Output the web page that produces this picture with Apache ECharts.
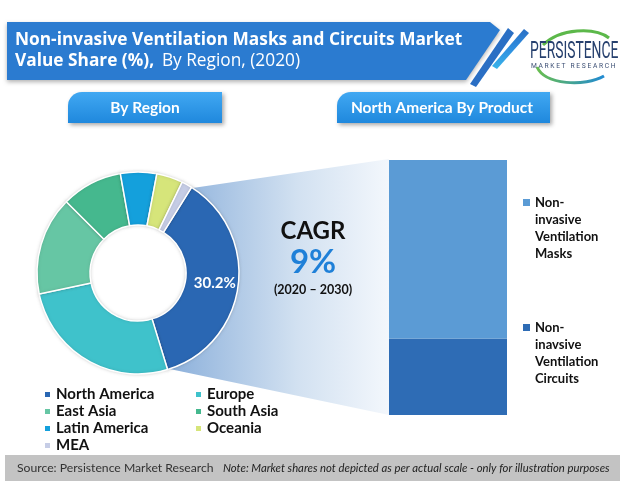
<!DOCTYPE html>
<html><head><meta charset="utf-8">
<script src="https://cdn.jsdelivr.net/npm/echarts@6/dist/echarts.min.js"></script>
<style>html,body{margin:0;padding:0;background:#fff}#c{width:620px;height:483px}</style>
</head><body><div id="c"></div>
<script>
// ---- data ----
var regions = ['North America','Europe','East Asia','South Asia','Latin America','Oceania','MEA'];
var regionShare = [30.2, 21.9, 13.1, 8.1, 4.8, 3.5, 1.4];
var regionColors = ['#2a67b3','#3fc2cb','#66c6a4','#45b88e','#14a0dc','#d6e57a','#c6cde6'];
var products = ['Non-invasive Ventilation Masks','Non-inavsive Ventilation Circuits'];
var productLegend = ['Non-\ninvasive\nVentilation\nMasks','Non-\ninavsive\nVentilation\nCircuits'];
var productShare = [70, 30];
var productColors = ['#5b9bd5','#2e6cb5'];
var cagrValue = '9%';
var cagrPeriod = '(2020 – 2030)';

var chart = echarts.init(document.getElementById('c'));
var F = 'Lato, "Open Sans", sans-serif';
var FT = '"Open Sans", Lato, sans-serif';

var cx = 138, cy = 273, rOut = 101, rIn = 48, startDeg = 58;
// funnel polygon (decoration) from NA slice to bar
function pt(degFromTop, r){var a=degFromTop*Math.PI/180;return [cx+r*Math.sin(a), cy-r*Math.cos(a)];}
var total = regionShare.reduce(function(a,b){return a+b;},0);
var naStart = 90-startDeg, naEnd = naStart + regionShare[0]/total*360;
var funnel = [pt(naStart, rOut-1), [389,159], [389,415], pt(naEnd, rOut-1)];
for (var d = naEnd; d >= naStart; d -= 8) funnel.push(pt(d, 75));
funnel.push(pt(naStart, 75));

var pieData = regions.map(function(n,i){
  var o = {name:n, value:regionShare[i], itemStyle:{color:regionColors[i]}};
  if (i===0) o.label = {show:true};
  return o;
});

chart.setOption({
  animation:false,
  graphic:[
    {type:'polygon', z:0, shape:{points:funnel}, style:{fill:{type:'linear',x:0,y:0,x2:1,y2:0,colorStops:[{offset:0,color:'#86acd9'},{offset:0.6,color:'#d2e1f1'},{offset:1,color:'#f3f7fc'}]}}},
    // banner
    {type:'polygon', shape:{points:[[7,22],[490,22],[500,30],[466,80],[7,80]]}, style:{fill:'#2b7bd0', shadowBlur:4, shadowColor:'rgba(0,0,0,0.3)', shadowOffsetY:2}},
    {type:'polygon', shape:{points:[[470,84],[476,87],[514,33],[508,28]]}, style:{fill:'#2a6fc4'}},
    {type:'polygon', shape:{points:[[492,66],[497,69],[529,33],[524,29]]}, style:{fill:{type:'linear',x:0,y:1,x2:0,y2:0,colorStops:[{offset:0,color:'#39b4ea'},{offset:0.5,color:'#2f8fe0'},{offset:1,color:'#2a6fc4'}]}}},
    {type:'text', x:15, y:40, style:{text:'Non-invasive Ventilation Masks and Circuits Market', fill:'#fff', font:'bold 17.3px '+FT, verticalAlign:'middle'}},
    {type:'text', x:15, y:61, style:{text:'{b|Value Share (%),} {n| By Region, (2020)}', fill:'#fff', verticalAlign:'middle', rich:{b:{font:'bold 17.3px '+FT, fill:'#fff'}, n:{font:'17.3px '+FT, fill:'#fff'}}}},
    // logo
    {type:'bezierCurve', shape:{x1:543,y1:45,cpx1:560,cpy1:28,cpx2:595,cpy2:27,x2:609,y2:38}, style:{stroke:'#5cb84a', lineWidth:3, fill:null}},
    {type:'bezierCurve', shape:{x1:537,y1:67,cpx1:545,cpy1:85,cpx2:585,cpy2:87,x2:604,y2:76}, style:{stroke:{type:'linear',x:0,y:0,x2:1,y2:0,colorStops:[{offset:0,color:'#6cc04a'},{offset:1,color:'#1e88d8'}]}, lineWidth:3, fill:null}},
    {type:'text', x:530, y:40, scaleX:0.578, style:{text:'PERSISTENCE', fill:'#26406e', font:'24px Roboto, sans-serif'}},
    {type:'text', x:531, y:63, style:{text:'M A R K E T   R E S E A R C H', fill:'#3d5075', font:'6.7px Roboto, sans-serif'}},
    // buttons
    {type:'rect', shape:{x:68,y:92,width:154,height:31,r:[14,0,0,0]}, style:{fill:{type:'linear',x:0,y:0,x2:0,y2:1,colorStops:[{offset:0,color:'#41a8f2'},{offset:1,color:'#1f88dd'}]}, shadowBlur:4, shadowColor:'rgba(0,0,0,0.35)', shadowOffsetX:2, shadowOffsetY:2}},
    {type:'text', x:145, y:107.5, style:{text:'By Region', fill:'#fff', font:'bold 15.5px '+F, align:'center', verticalAlign:'middle'}},
    {type:'rect', shape:{x:337,y:92,width:213,height:31,r:[14,0,0,0]}, style:{fill:{type:'linear',x:0,y:0,x2:0,y2:1,colorStops:[{offset:0,color:'#41a8f2'},{offset:1,color:'#1f88dd'}]}, shadowBlur:4, shadowColor:'rgba(0,0,0,0.35)', shadowOffsetX:2, shadowOffsetY:2}},
    {type:'text', x:442, y:107.5, style:{text:'North America By Product', fill:'#fff', font:'bold 15.5px '+F, align:'center', verticalAlign:'middle'}},
    // CAGR
    {type:'text', x:313, y:231, style:{text:'CAGR', fill:'#111', font:'bold 24px '+F, align:'center', verticalAlign:'middle'}},
    {type:'text', x:313, y:262, style:{text:cagrValue, fill:'#1f80d8', font:'bold 33px '+F, align:'center', verticalAlign:'middle'}},
    {type:'text', x:313, y:290, style:{text:cagrPeriod, fill:'#111', font:'bold 12.5px '+F, align:'center', verticalAlign:'middle'}},
    // footer
    {type:'rect', shape:{x:5,y:455,width:615,height:26}, style:{fill:'#c3c3c3'}},
    {type:'text', x:17, y:468, style:{text:'Source: Persistence Market Research', fill:'#333', font:'12.2px '+F, verticalAlign:'middle'}},
    {type:'text', x:223, y:468, style:{text:'Note: Market shares not depicted as per actual scale - only for illustration purposes', fill:'#222', font:'italic 11.3px '+F, verticalAlign:'middle'}}
  ],
  legend:[
    {orient:'vertical', left:43, top:387, padding:0, itemWidth:7, itemHeight:7, icon:'rect', itemGap:2,
     data:['North America','East Asia','Latin America','MEA'], selectedMode:false,
     textStyle:{fontWeight:'bold', fontSize:15, fontFamily:F, color:'#111', lineHeight:15}},
    {orient:'vertical', left:194, top:387, padding:0, itemWidth:7, itemHeight:7, icon:'rect', itemGap:2,
     data:['Europe','South Asia','Oceania'], selectedMode:false,
     textStyle:{fontWeight:'bold', fontSize:15, fontFamily:F, color:'#111', lineHeight:15}},
    {orient:'vertical', left:523, top:143, padding:0, itemWidth:7, itemHeight:7, icon:'rect', itemGap:6,
     data:products, selectedMode:false,
     formatter:function(n){return '\n\n\n'+productLegend[products.indexOf(n)];},
     textStyle:{fontWeight:'bold', fontSize:13, fontFamily:F, color:'#111', lineHeight:17}}
  ],
  grid:{left:389, top:160, width:118, height:255},
  xAxis:{type:'category', data:['North America'], show:false},
  yAxis:{type:'value', min:0, max:100, show:false},
  series:[
    {type:'pie', center:[cx,cy], radius:[rIn,rOut], startAngle:startDeg, clockwise:true,
     label:{show:false, position:'inside', formatter:'{c}%', color:'#fff', fontWeight:'bold', fontSize:15, fontFamily:F},
     labelLine:{show:false},
     itemStyle:{borderColor:'#fff', borderWidth:1.5, shadowBlur:3, shadowColor:'rgba(0,0,0,0.15)'},
     emphasis:{disabled:true},
     data:pieData},
    {type:'bar', name:products[1], stack:'p', barWidth:'100%', data:[productShare[1]], itemStyle:{color:productColors[1]}},
    {type:'bar', name:products[0], stack:'p', barWidth:'100%', data:[productShare[0]], itemStyle:{color:productColors[0]}}
  ]
});
</script></body></html>
